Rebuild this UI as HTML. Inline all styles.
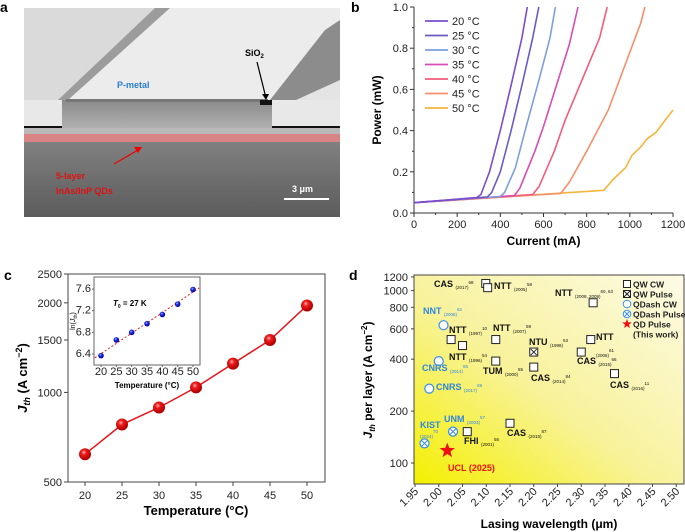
<!DOCTYPE html>
<html><head><meta charset="utf-8"><style>
body{margin:0;background:#fff}
svg{display:block;font-family:"Liberation Sans","Noto Sans CJK SC",sans-serif}
.t{font-size:11px;fill:#222}
.b{font-weight:bold}
</style></head><body>
<svg id="fig" width="685" height="532" viewBox="0 0 685 532" xmlns="http://www.w3.org/2000/svg">
<defs>
<linearGradient id="dkg" x1="0" y1="0" x2="0" y2="1"><stop offset="0" stop-color="#808080"/><stop offset="1" stop-color="#5c5c5c"/></linearGradient>
<linearGradient id="rdg" x1="0" y1="0" x2="0" y2="1"><stop offset="0" stop-color="#8a8a8a"/><stop offset="1" stop-color="#b0b0b0"/></linearGradient>
<linearGradient id="yel" x1="0" y1="1" x2="1" y2="0"><stop offset="0" stop-color="#f4f000"/><stop offset="0.45" stop-color="#f8f29a"/><stop offset="1" stop-color="#fdfbe6"/></linearGradient>
<radialGradient id="rball" cx="0.4" cy="0.35" r="0.6"><stop offset="0" stop-color="#ffb0b0"/><stop offset="0.35" stop-color="#ee1c1c"/><stop offset="1" stop-color="#b00000"/></radialGradient>
<radialGradient id="bball" cx="0.4" cy="0.35" r="0.6"><stop offset="0" stop-color="#b0c0ff"/><stop offset="0.4" stop-color="#2030e0"/><stop offset="1" stop-color="#0000a0"/></radialGradient>
</defs>

<g>
<text x="0" y="12" class="b" font-size="14">a</text>
<rect x="24" y="8" width="316" height="209" fill="#e4e4e4"/>
<polygon points="24,8 165,8 62,100 24,100" fill="#dadada"/>
<polygon points="165,8 340,8 340,30 272,100 66,100" fill="#ececec"/>
<polygon points="155,8 170,8 68,100 58,100" fill="#9c9c9c"/>
<polygon points="325,30 340,20 340,80 285,105 270,100" fill="#8c8c8c"/>
<rect x="24" y="100" width="316" height="28" fill="#e8e8e8"/>
<rect x="24" y="126" width="38" height="3" fill="#111"/>
<rect x="272" y="126" width="68" height="3" fill="#111"/>
<rect x="62" y="100" width="210" height="28" fill="url(#rdg)"/>
<rect x="66" y="99" width="202" height="3" fill="#777"/>
<rect x="260" y="100" width="12" height="5" fill="#111"/>
<rect x="24" y="128" width="316" height="6" fill="#b8b8b8"/>
<rect x="24" y="134" width="316" height="8" fill="#d98484"/>
<rect x="24" y="142" width="316" height="75" fill="url(#dkg)"/>
<text x="117" y="88" fill="#2a7fd0" class="b" font-size="9">P-metal</text>
<text x="245" y="56" fill="#000" class="b" font-size="9">SiO<tspan font-size="6" dy="2">2</tspan></text>
<line x1="257" y1="62" x2="265" y2="94" stroke="#000" stroke-width="1.2"/>
<polygon points="262,94 269,94 266,100" fill="#000"/>
<line x1="114" y1="164" x2="138" y2="150" stroke="#e00" stroke-width="1.2"/>
<polygon points="134,147 142,147 138,153" fill="#e00"/>
<text x="56" y="179" fill="#e01010" class="b" font-size="9">5-layer</text>
<text x="56" y="194" fill="#e01010" class="b" font-size="9">InAs/InP QDs</text>
<text x="292" y="192" fill="#fff" class="b" font-size="9">3 μm</text>
<rect x="284" y="198" width="45" height="2" fill="#fff"/>
</g>

<text x="351" y="12" class="b" font-size="14">b</text>
<g id="pb"></g>
<text x="4" y="280" class="b" font-size="14">c</text>
<g id="pc"></g>
<text x="349" y="280" class="b" font-size="14">d</text>
<g id="pd"></g>
</svg>
<script>
const bTemps = ["20 °C","25 °C","30 °C","35 °C","40 °C","45 °C","50 °C"];
const bColors = ["#7d4dcc","#6b5bc4","#7b9fe0","#d84db5","#f25d7c","#f5906c","#f4b63c"];
const bI20 = [0,290,310,350,400,450,500,525];
const bP20 = [0.05,0.075,0.09,0.2,0.4,0.62,0.85,1.0];
const bI25 = [0,340,360,400,450,500,550,578];
const bP25 = [0.05,0.078,0.1,0.2,0.4,0.62,0.85,1.0];
const bI30 = [0,400,420,470,520,580,630,655];
const bP30 = [0.05,0.08,0.1,0.22,0.42,0.65,0.85,1.0];
const bI35 = [0,465,490,560,600,660,720,760];
const bP35 = [0.05,0.085,0.12,0.3,0.42,0.62,0.82,1.0];
const bI40 = [0,550,580,650,700,800,860,895];
const bP40 = [0.05,0.09,0.13,0.3,0.45,0.7,0.85,1.0];
const bI45 = [0,680,720,800,900,1000,1050,1070];
const bP45 = [0.05,0.095,0.15,0.3,0.5,0.78,0.92,1.0];
const bI50 = [0,880,920,980,1010,1050,1080,1120,1200];
const bP50 = [0.05,0.11,0.16,0.22,0.28,0.32,0.36,0.39,0.5];
const bXTicks = [0,200,400,600,800,1000,1200];
const bYTicks = [0,0.2,0.4,0.6,0.8,1.0];

const cTemps = [20,25,30,35,40,45,50];
const cJth = [620,780,890,1040,1250,1500,1960];
const cYTicks = [500,1000,1500,2000,2500];
const cLnJ = [6.37,6.66,6.80,6.96,7.13,7.32,7.59];
const cFitX = [18,52];
const cFitY = [6.33,7.62];
const cInYTicks = [6.4,6.8,7.2,7.6];

const dQWcwX = [2.099,2.103,2.325,2.026,2.05,2.12,2.12,2.20,2.32,2.30,2.37,2.15,2.06];
const dQWcwY = [1100,1040,850,520,480,520,390,360,520,440,330,170,152];
const dQWpX = [2.20];
const dQWpY = [440];
const dQDcwX = [2.01,2.00,1.98];
const dQDcwY = [630,390,270];
const dQDpX = [1.97,2.03];
const dQDpY = [130,152];
const dQDX = [2.018];
const dQDY = [118];
const dXTicks = ["1.95","2.00","2.05","2.10","2.15","2.20","2.25","2.30","2.35","2.40","2.45","2.50"];
const dYTicks = [100,200,400,600,800,1000,1200];

const NS="http://www.w3.org/2000/svg";
function mk(parent,tag,attrs,text){const e=document.createElementNS(NS,tag);for(const k in attrs)e.setAttribute(k,attrs[k]);if(text!==undefined)e.textContent=text;parent.appendChild(e);return e;}

(function(){
const g=document.getElementById('pb');
const L=414,R=673,T=7,B=213;
const x=v=>L+(v/1200)*(R-L), y=v=>B-(v/1.0)*(B-T);
mk(g,'line',{x1:L,y1:T,x2:L,y2:B,stroke:'#333'});
mk(g,'line',{x1:L,y1:B,x2:R,y2:B,stroke:'#333'});
bXTicks.forEach(v=>{mk(g,'line',{x1:x(v),y1:B,x2:x(v),y2:B+4,stroke:'#333'});
 const t=mk(g,'text',{x:x(v),y:B+15,'text-anchor':'middle',class:'t'},String(v));
 });
for(let v=100;v<1200;v+=200)mk(g,'line',{x1:x(v),y1:B,x2:x(v),y2:B+2,stroke:'#333'});
bYTicks.forEach(v=>{mk(g,'line',{x1:L-4,y1:y(v),x2:L,y2:y(v),stroke:'#333'});
 const t=mk(g,'text',{x:L-6,y:y(v)+4,'text-anchor':'end',class:'t'},v.toFixed(1));
 });
for(let v=0.1;v<1;v+=0.2)mk(g,'line',{x1:L-2,y1:y(v),x2:L,y2:y(v),stroke:'#333'});
const xt=mk(g,'text',{x:(L+R)/2,y:245,'text-anchor':'middle',class:'b','font-size':12},'Current (mA)');

const yt=mk(g,'text',{x:0,y:0,transform:`translate(381,${(T+B)/2}) rotate(-90)`,'text-anchor':'middle',class:'b','font-size':12},'Power (mW)');

const Is=[bI20,bI25,bI30,bI35,bI40,bI45,bI50], Ps=[bP20,bP25,bP30,bP35,bP40,bP45,bP50];
for(let s=6;s>=0;s--){
 const d=Is[s].map((v,i)=>(i?'L':'M')+x(v).toFixed(1)+','+y(Ps[s][i]).toFixed(1)).join('');
 const p=mk(g,'path',{d:d,fill:'none',stroke:bColors[s],'stroke-width':1.6,'stroke-linejoin':'round'});
 
}
bTemps.forEach((n,i)=>{const yy=21+i*14.5;
 const l=mk(g,'line',{x1:425,y1:yy,x2:448,y2:yy,stroke:bColors[i],'stroke-width':1.8});
 
 const t=mk(g,'text',{x:452,y:yy+4,class:'t'},n);
 });
})();

(function(){
const g=document.getElementById('pc');
const L=68,R=325,T=274,B=482;
const x=v=>85+(v-20)/30*(307-85);
const y=v=>B-Math.log(v/500)/Math.log(5)*(B-T);
mk(g,'rect',{x:L,y:T,width:R-L,height:B-T,fill:'none',stroke:'#444'});
cTemps.forEach(v=>{mk(g,'line',{x1:x(v),y1:B,x2:x(v),y2:B+4,stroke:'#444'});
 const t=mk(g,'text',{x:x(v),y:B+17,'text-anchor':'middle',class:'t','font-size':12},String(v));
 });
cYTicks.forEach(v=>{mk(g,'line',{x1:L-4,y1:y(v),x2:L,y2:y(v),stroke:'#444'});
 const t=mk(g,'text',{x:L-6,y:y(v)+4,'text-anchor':'end',class:'t','font-size':12},String(v));
 });
const xt=mk(g,'text',{x:196,y:515,'text-anchor':'middle',class:'b','font-size':13},'Temperature (°C)');

const yt=mk(g,'text',{x:0,y:0,transform:'translate(27,378) rotate(-90)','text-anchor':'middle',class:'b','font-size':13});
yt.innerHTML='<tspan font-style="italic">J</tspan><tspan font-style="italic" font-size="9" dy="3">th</tspan><tspan dy="-3"> (A cm</tspan><tspan font-size="9" dy="-5">−2</tspan><tspan dy="5">)</tspan>';

const d=cTemps.map((v,i)=>(i?'L':'M')+x(v)+','+y(cJth[i])).join('');
const ln=mk(g,'path',{d:d,fill:'none',stroke:'#e8141c','stroke-width':1.5});

cTemps.forEach((v,i)=>{const c=mk(g,'circle',{cx:x(v),cy:y(cJth[i]),r:6,fill:'url(#rball)'});
 });
const iL=94,iR=200,iT=277,iB=365;
const ix=v=>101+(v-20)/30*(193-101);
const iy=v=>354-(v-6.4)/1.2*(354-289);
const ib=mk(g,'rect',{x:iL,y:iT,width:iR-iL,height:iB-iT,fill:'#fff',stroke:'#666'});

cTemps.forEach(v=>{mk(g,'line',{x1:ix(v),y1:iB,x2:ix(v),y2:iB+2,stroke:'#666'});
 const t=mk(g,'text',{x:ix(v),y:iB+10,'text-anchor':'middle',class:'t','font-size':8},String(v));
 });
cInYTicks.forEach(v=>{mk(g,'line',{x1:iL-2,y1:iy(v),x2:iL,y2:iy(v),stroke:'#666'});
 const t=mk(g,'text',{x:iL-3,y:iy(v)+3,'text-anchor':'end',class:'t','font-size':8},v.toFixed(1));
 });
const ixt=mk(g,'text',{x:147,y:388,'text-anchor':'middle',class:'b','font-size':8},'Temperature (°C)');

const iyt=mk(g,'text',{x:0,y:0,transform:'translate(75,321) rotate(-90)','text-anchor':'middle','font-size':7});
iyt.innerHTML='ln(<tspan font-style="italic">J</tspan><tspan font-size="5" dy="2">th</tspan><tspan dy="-2">)</tspan>';

const fit=mk(g,'line',{x1:ix(cFitX[0]),y1:iy(cFitY[0]),x2:ix(cFitX[1]),y2:iy(cFitY[1]),stroke:'#e82020','stroke-width':1,'stroke-dasharray':'2,2'});

cTemps.forEach((v,i)=>{const c=mk(g,'circle',{cx:ix(v),cy:iy(cLnJ[i]),r:2.8,fill:'url(#bball)'});
 });
const t0=mk(g,'text',{x:113,y:306,class:'b','font-size':8});
t0.innerHTML='<tspan font-style="italic">T</tspan><tspan font-size="5" dy="2">0</tspan><tspan dy="-2"> = 27 K</tspan>';

})();

(function(){
const g=document.getElementById('pd');
const L=414,R=684,T=275,B=484;
const x=v=>415+(v-1.95)*475;
const y=v=>463-Math.log10(v/100)*172.4;
const bg=mk(g,'rect',{x:L,y:T,width:R-L,height:B-T,fill:'url(#yel)',stroke:'#444'});

dXTicks.forEach(s=>{const v=parseFloat(s);mk(g,'line',{x1:x(v),y1:B,x2:x(v),y2:B+3,stroke:'#444'});
 const t=mk(g,'text',{x:0,y:0,transform:`translate(${x(v)+4},${B+8}) rotate(-45)`,'text-anchor':'end',class:'t','font-size':10.5},s);
 });
dYTicks.forEach(v=>{mk(g,'line',{x1:L-3,y1:y(v),x2:L,y2:y(v),stroke:'#444'});
 const t=mk(g,'text',{x:L-6,y:y(v)+4,'text-anchor':'end',class:'t','font-size':11},String(v));
 });
const xt=mk(g,'text',{x:549,y:528,'text-anchor':'middle',class:'b','font-size':12},'Lasing wavelength (μm)');

const yt=mk(g,'text',{x:0,y:0,transform:'translate(372,380) rotate(-90)','text-anchor':'middle',class:'b','font-size':12});
yt.innerHTML='<tspan font-style="italic">J</tspan><tspan font-style="italic" font-size="8" dy="3">th</tspan><tspan dy="-3"> per layer (A cm</tspan><tspan font-size="8" dy="-5">−2</tspan><tspan dy="5">)</tspan>';

function sq(cx,cy,cross){const r=mk(g,'rect',{x:cx-4,y:cy-4,width:8,height:8,fill:'#fff',stroke:'#222','stroke-width':1});
 
 if(cross){mk(g,'path',{d:`M${cx-3},${cy-3}L${cx+3},${cy+3}M${cx+3},${cy-3}L${cx-3},${cy+3}`,stroke:'#222'});}}
function ci(cx,cy,cross){const c=mk(g,'circle',{cx:cx,cy:cy,r:4.5,fill:'#fff',stroke:'#3a8ee8','stroke-width':1.2});
 
 if(cross){mk(g,'path',{d:`M${cx-3},${cy-3}L${cx+3},${cy+3}M${cx+3},${cy-3}L${cx-3},${cy+3}`,stroke:'#3a8ee8'});}}
function star(cx,cy,r){let p=[];for(let i=0;i<10;i++){const a=-Math.PI/2+i*Math.PI/5,rr=i%2?r*0.42:r;p.push((cx+rr*Math.cos(a)).toFixed(1)+','+(cy+rr*Math.sin(a)).toFixed(1));}return p.join(' ');}
dQWcwX.forEach((v,i)=>sq(x(v),y(dQWcwY[i]),false));
dQWpX.forEach((v,i)=>sq(x(v),y(dQWpY[i]),true));
dQDcwX.forEach((v,i)=>ci(x(v),y(dQDcwY[i]),false));
dQDpX.forEach((v,i)=>ci(x(v),y(dQDpY[i]),true));
dQDX.forEach((v,i)=>{const s=mk(g,'polygon',{points:star(x(v),y(dQDY[i]),8),fill:'#f01010'});
 });
const ann=[
 [434,287,'#111','CAS','(2017)','68'],[494,289,'#111','NTT','(2005)','58'],[555,296,'#111','NTT','(2008, 2009)','60, 63'],
 [423,314,'#2f86e0','NNT','(2008)','62'],[449,333,'#111','NTT','(1997)','10'],[493,331,'#111','NTT','(2007)','59'],
 [529,345,'#111','NTU','(1998)','53'],[596,340,'#111','NTT','',''],[596,355,'#111','','(2006)','61'],
 [449,360,'#111','NTT','(1996)','54'],[577,364,'#111','CAS','(2015)','66'],[422,371,'#2f86e0','CNRS','(2014)','65'],
 [483,374,'#111','TUM','(2000)','55'],[531,381,'#111','CAS','(2014)','84'],[610,388,'#111','CAS','(2016)','11'],
 [436,390,'#2f86e0','CNRS','(2017)','69'],[444,422,'#2f86e0','UNM','(2003)','57'],[420,428,'#2f86e0','KIST','',''],
 [420,436,'#2f86e0','','(2024)','70'],[507,436,'#111','CAS','(2015)','87'],[464,444,'#111','FHI','(2001)','56']];
ann.forEach(a=>{const t=mk(g,'text',{x:a[0],y:a[1],fill:a[2],class:'b','font-size':9});
 t.innerHTML=`${a[3]} <tspan font-size="4.5" font-weight="normal" dy="2">${a[4]}</tspan><tspan font-size="4.5" font-weight="normal" dy="-5">${a[5]}</tspan>`;
 });
const u=mk(g,'text',{x:448,y:471,fill:'#f01010',class:'b','font-size':9},'UCL (2025)');

const leg=[['QW CW'],['QW Pulse'],['QDash CW'],['QDash Pulse'],['QD Pulse']];
leg.forEach((l,i)=>{const yy=284+i*10;const cx=627;
 if(i<2){mk(g,'rect',{x:cx-3.5,y:yy-3.5,width:7,height:7,fill:'#fff',stroke:'#222'});if(i==1)mk(g,'path',{d:`M${cx-3},${yy-3}L${cx+3},${yy+3}M${cx+3},${yy-3}L${cx-3},${yy+3}`,stroke:'#222'});}
 else if(i<4){mk(g,'circle',{cx:cx,cy:yy,r:3.8,fill:'#fff',stroke:'#3a8ee8'});if(i==3)mk(g,'path',{d:`M${cx-2.5},${yy-2.5}L${cx+2.5},${yy+2.5}M${cx+2.5},${yy-2.5}L${cx-2.5},${yy+2.5}`,stroke:'#3a8ee8'});}
 else mk(g,'polygon',{points:star(cx,yy,5),fill:'#f01010'});
 const t=mk(g,'text',{x:633,y:yy+3.5,class:'b','font-size':8.5,fill:'#222'},l[0]);
 });
const tw=mk(g,'text',{x:633,y:337.5,class:'b','font-size':8.5,fill:'#222'},'(This work)');

})();
</script>
</body></html>
